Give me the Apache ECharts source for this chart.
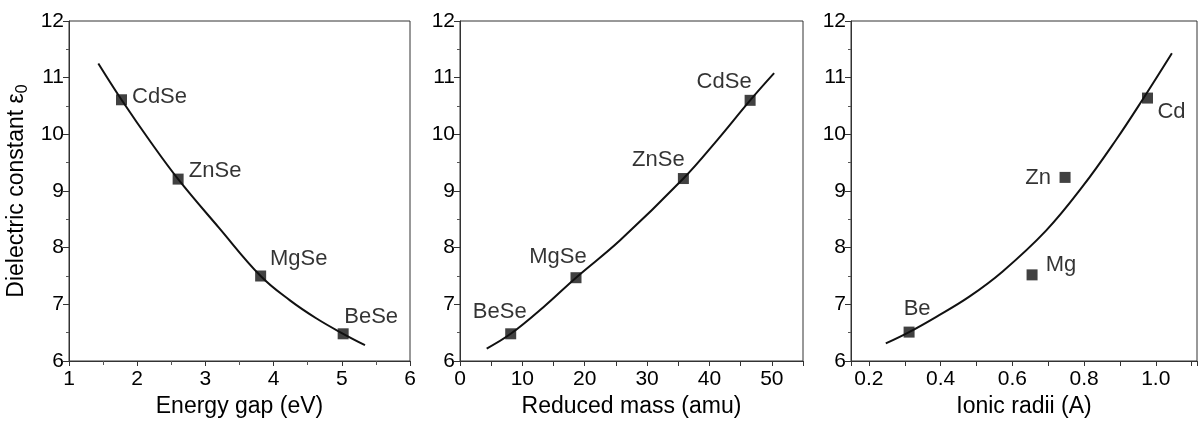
<!DOCTYPE html>
<html>
<head>
<meta charset="utf-8">
<script src="https://cdn.jsdelivr.net/npm/echarts@6/dist/echarts.min.js"></script>
<style>
  html, body { margin: 0; padding: 0; background: #fff; }
  #chart { width: 1200px; height: 426px; }
</style>
</head>
<body>
<div id="chart"></div>
<script>
// values
const gapNames = ['CdSe', 'ZnSe', 'MgSe', 'BeSe'];
const gapX = [1.77, 2.60, 3.81, 5.02];
const gapY = [10.61, 9.21, 7.50, 6.48];
const gapCurveX = [1.43, 1.77, 2.2, 2.6, 3.2, 3.81, 4.24, 4.63, 5.02, 5.34];
const gapCurveY = [11.25, 10.61, 9.86, 9.21, 8.35, 7.50, 7.07, 6.75, 6.48, 6.28];

const massNames = ['BeSe', 'MgSe', 'ZnSe', 'CdSe'];
const massX = [8.13, 18.6, 35.82, 46.52];
const massY = [6.48, 7.47, 9.22, 10.6];
const massCurveX = [4.28, 8.13, 13.37, 18.6, 25.67, 35.82, 41.18, 46.52, 50.37];
const massCurveY = [6.22, 6.48, 6.95, 7.47, 8.13, 9.22, 9.89, 10.6, 11.08];

const radiiNames = ['Be', 'Mg', 'Zn', 'Cd'];
const radiiX = [0.312, 0.655, 0.747, 0.977];
const radiiY = [6.51, 7.52, 9.24, 10.64];
const radiiCurveX = [0.247, 0.312, 0.388, 0.481, 0.573, 0.694, 0.796, 0.889, 0.963, 1.045];
const radiiCurveY = [6.31, 6.51, 6.78, 7.14, 7.58, 8.30, 9.08, 9.90, 10.61, 11.43];

const yTicks = [6, 7, 8, 9, 10, 11, 12];

// label placement (offset from marker centre), per point
const gapOffsets = [[38, -3], [37, -8], [38, -17], [28, -17]];
const massOffsets = [[-11, -22], [-18, -21], [-25, -19], [-26, -18]];
const radiiOffsets = [[8, -23], [29, -10], [-27, 1], [24, 14]];

const font = 'Liberation Sans, Arial, sans-serif';
const ink = '#000';

const grids = [
  { left: 69, width: 341, top: 21, height: 340 },
  { left: 460, width: 343, top: 21, height: 340 },
  { left: 851, width: 347, top: 21, height: 340 }
].map(g => ({ ...g, show: true, borderColor: '#333', borderWidth: 1, backgroundColor: 'transparent' }));

function xAxisBase(i, name) {
  return {
    type: 'value',
    gridIndex: i,
    name: name,
    nameLocation: 'middle',
    nameGap: 31,
    nameTextStyle: { fontFamily: font, fontSize: 23, color: ink },
    axisLine: { lineStyle: { color: '#333', width: 1 } },
    axisTick: { length: 5, lineStyle: { color: '#333' } },
    minorTick: { show: true, splitNumber: 2, length: 4, lineStyle: { color: '#555' } },
    splitLine: { show: false },
    axisLabel: { fontFamily: font, fontSize: 21, color: ink, margin: 8 }
  };
}

function yAxisBase(i) {
  return {
    type: 'value',
    gridIndex: i,
    min: yTicks[0],
    max: yTicks[yTicks.length - 1],
    interval: 1,
    axisLine: { lineStyle: { color: '#333', width: 1 } },
    axisTick: { length: 6, lineStyle: { color: '#333' } },
    minorTick: { show: true, splitNumber: 2, length: 3, lineStyle: { color: '#555' } },
    splitLine: { show: false },
    axisLabel: { fontFamily: font, fontSize: 21, color: ink, margin: 5 }
  };
}

function radiiLabel(v) {
  const t = v * 10;
  if (Math.abs(t - Math.round(t)) > 1e-6) return '';
  return Math.round(t) % 2 === 0 ? v.toFixed(1) : '';
}

const xAxes = [
  { ...xAxisBase(0, 'Energy gap (eV)'), min: 1, max: 6, interval: 1 },
  {
    ...xAxisBase(1, 'Reduced mass (amu)'), min: 0, max: 55, interval: 5,
    minorTick: { show: false },
    axisLabel: {
      fontFamily: font, fontSize: 21, color: ink, margin: 8,
      formatter: v => (v % 10 === 0 ? String(v) : '')
    }
  },
  {
    ...xAxisBase(2, 'Ionic radii (A)'), min: 0.15, max: 1.115, splitNumber: 10,
    minorTick: { show: false },
    axisLabel: { fontFamily: font, fontSize: 21, color: ink, margin: 8, formatter: radiiLabel }
  }
];

const yAxes = [
  {
    ...yAxisBase(0),
    name: '{t|Dielectric constant ε}{s|0}',
    nameLocation: 'middle',
    nameGap: 39,
    nameTextStyle: {
      color: ink,
      rich: {
        t: { fontFamily: font, fontSize: 23, color: ink, lineHeight: 26 },
        s: { fontFamily: font, fontSize: 16, color: ink, lineHeight: 26, padding: [11, 0, 0, 0] }
      }
    }
  },
  yAxisBase(1),
  yAxisBase(2)
];

function curveSeries(i, xs, ys) {
  return {
    type: 'line',
    xAxisIndex: i,
    yAxisIndex: i,
    data: xs.map((x, k) => [x, ys[k]]),
    smooth: 0.4,
    showSymbol: false,
    lineStyle: { color: '#111', width: 2 },
    z: 2,
    silent: true
  };
}

function pointSeries(i, names, xs, ys, offsets) {
  return {
    type: 'scatter',
    xAxisIndex: i,
    yAxisIndex: i,
    symbol: 'rect',
    symbolSize: 11,
    itemStyle: { color: '#111' },
    z: 3,
    data: xs.map((x, k) => ({
      name: names[k],
      value: [x, ys[k]],
      label: { offset: offsets[k] }
    })),
    label: {
      show: true,
      position: 'inside',
      formatter: '{b}',
      fontFamily: font,
      fontSize: 22,
      color: ink,
      textBorderWidth: 0
    }
  };
}

const option = {
  animation: false,
  backgroundColor: '#fff',
  grid: grids,
  xAxis: xAxes,
  yAxis: yAxes,
  series: [
    curveSeries(0, gapCurveX, gapCurveY),
    pointSeries(0, gapNames, gapX, gapY, gapOffsets),
    curveSeries(1, massCurveX, massCurveY),
    pointSeries(1, massNames, massX, massY, massOffsets),
    curveSeries(2, radiiCurveX, radiiCurveY),
    pointSeries(2, radiiNames, radiiX, radiiY, radiiOffsets)
  ]
};

const chart = echarts.init(document.getElementById('chart'), null, { renderer: 'canvas' });
chart.setOption(option);
</script>
</body>
</html>
